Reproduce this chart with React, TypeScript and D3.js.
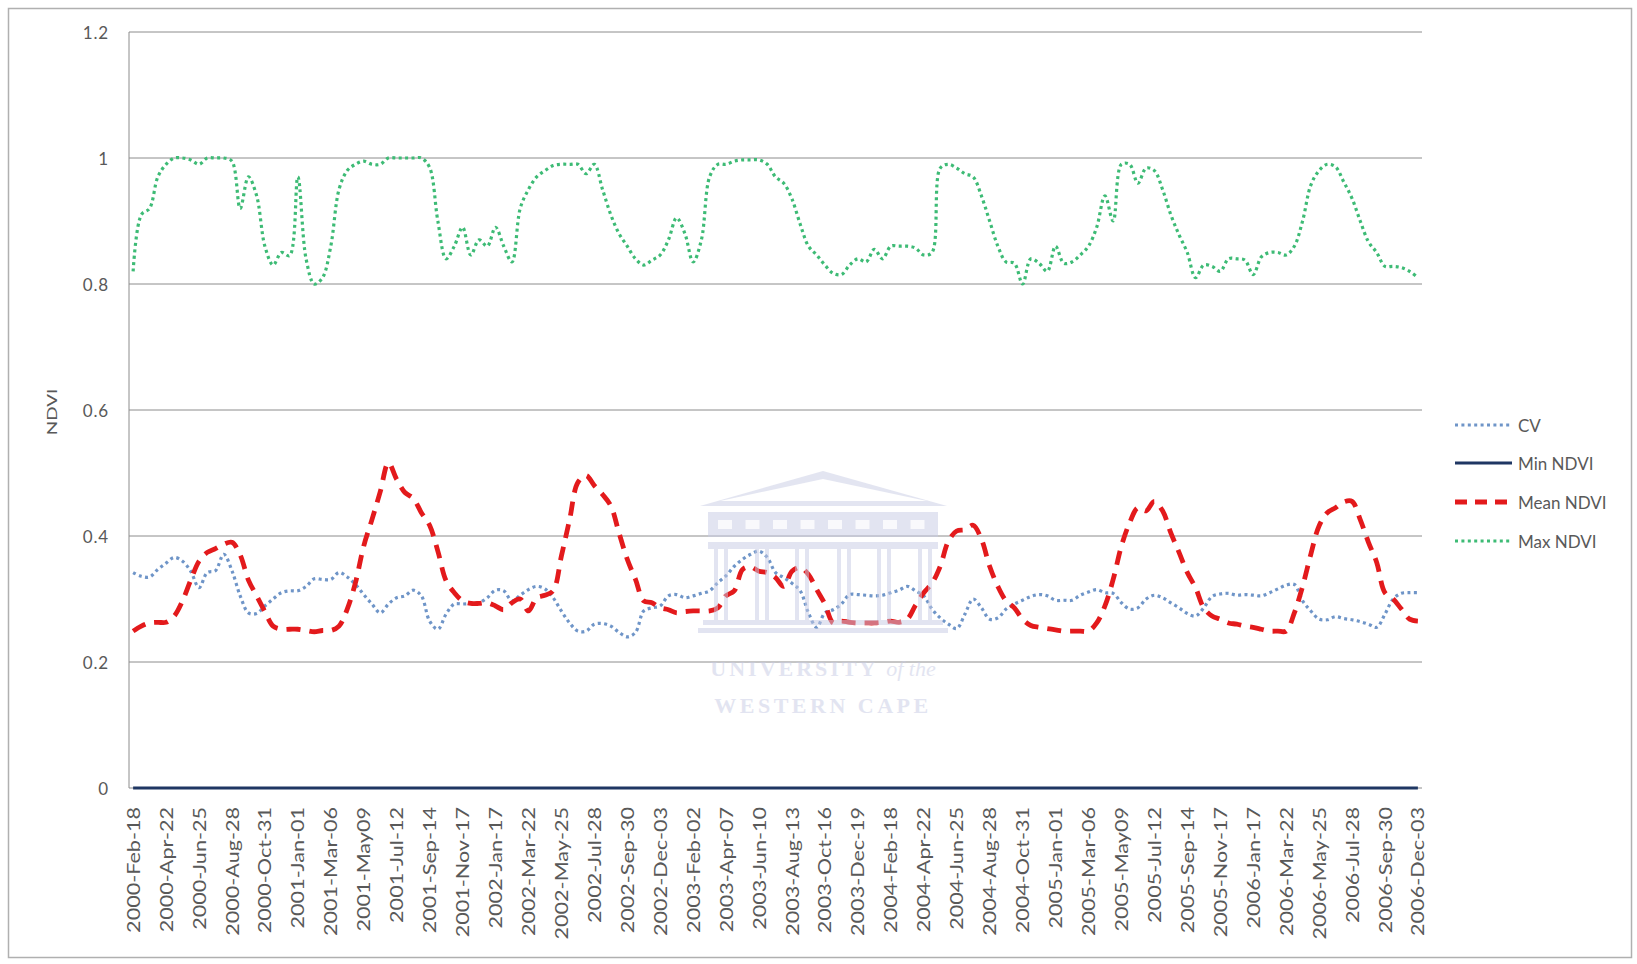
import React from 'react';
import * as d3 from 'd3';

const TICK_LABELS = [
  '2000-Feb-18', '2000-Apr-22', '2000-Jun-25', '2000-Aug-28', '2000-Oct-31',
  '2001-Jan-01', '2001-Mar-06', '2001-May09', '2001-Jul-12', '2001-Sep-14', '2001-Nov-17',
  '2002-Jan-17', '2002-Mar-22', '2002-May-25', '2002-Jul-28', '2002-Sep-30', '2002-Dec-03',
  '2003-Feb-02', '2003-Apr-07', '2003-Jun-10', '2003-Aug-13', '2003-Oct-16', '2003-Dec-19',
  '2004-Feb-18', '2004-Apr-22', '2004-Jun-25', '2004-Aug-28', '2004-Oct-31',
  '2005-Jan-01', '2005-Mar-06', '2005-May09', '2005-Jul-12', '2005-Sep-14', '2005-Nov-17',
  '2006-Jan-17', '2006-Mar-22', '2006-May-25', '2006-Jul-28', '2006-Sep-30', '2006-Dec-03',
];
const LABEL_STEP = 4;

const CV = [
  0.342, 0.336, 0.335, 0.347, 0.357, 0.366, 0.36, 0.344, 0.318, 0.342, 0.345, 0.371, 0.345, 0.305, 0.278, 0.277,
  0.289, 0.30, 0.31, 0.313, 0.313, 0.32, 0.332, 0.331, 0.331, 0.342, 0.335, 0.323, 0.307, 0.292, 0.278, 0.292,
  0.302, 0.305, 0.314, 0.305, 0.265, 0.252, 0.276, 0.292, 0.292, 0.293, 0.294, 0.302, 0.314, 0.313, 0.297, 0.306,
  0.315, 0.32, 0.316, 0.302, 0.281, 0.262, 0.249, 0.249, 0.26, 0.261, 0.257, 0.247, 0.24, 0.247, 0.281,
  0.286, 0.289, 0.305, 0.307, 0.302, 0.305, 0.309, 0.313, 0.326, 0.337, 0.352, 0.363, 0.371, 0.376, 0.366, 0.342,
  0.334, 0.325, 0.313, 0.278, 0.255, 0.278, 0.283, 0.292, 0.307, 0.307, 0.306, 0.305, 0.306, 0.31, 0.314, 0.32,
  0.313, 0.305, 0.284, 0.27, 0.26, 0.253, 0.276, 0.30, 0.286, 0.268, 0.27, 0.284, 0.292, 0.298, 0.304, 0.307,
  0.305, 0.298, 0.298, 0.298, 0.306, 0.311, 0.315, 0.31, 0.309, 0.294, 0.284, 0.286, 0.30, 0.306, 0.302, 0.294,
  0.286, 0.277, 0.273, 0.286, 0.304, 0.308, 0.309, 0.306, 0.307, 0.306, 0.305, 0.31, 0.316, 0.322, 0.323, 0.297,
  0.281, 0.268, 0.267, 0.272, 0.269, 0.267, 0.264, 0.26, 0.255, 0.276, 0.30, 0.309, 0.31, 0.31,
];

const MIN_NDVI = [
  0, 0, 0, 0, 0, 0, 0, 0, 0, 0, 0, 0, 0, 0, 0, 0, 0, 0, 0, 0,
  0, 0, 0, 0, 0, 0, 0, 0, 0, 0, 0, 0, 0, 0, 0, 0, 0, 0, 0, 0,
  0, 0, 0, 0, 0, 0, 0, 0, 0, 0, 0, 0, 0, 0, 0, 0, 0, 0, 0, 0,
  0, 0, 0, 0, 0, 0, 0, 0, 0, 0, 0, 0, 0, 0, 0, 0, 0, 0, 0, 0,
  0, 0, 0, 0, 0, 0, 0, 0, 0, 0, 0, 0, 0, 0, 0, 0, 0, 0, 0, 0,
  0, 0, 0, 0, 0, 0, 0, 0, 0, 0, 0, 0, 0, 0, 0, 0, 0, 0, 0, 0,
  0, 0, 0, 0, 0, 0, 0, 0, 0, 0, 0, 0, 0, 0, 0, 0, 0, 0, 0, 0,
  0, 0, 0, 0, 0, 0, 0, 0, 0, 0, 0, 0, 0, 0, 0, 0, 0,
];

const MEAN_NDVI = [
  0.249, 0.257, 0.262, 0.263, 0.263, 0.273, 0.297, 0.33, 0.36, 0.374, 0.38, 0.387, 0.39, 0.37, 0.33, 0.305,
  0.28, 0.257, 0.252, 0.252, 0.252, 0.25, 0.248, 0.25, 0.25, 0.257, 0.284, 0.326, 0.384, 0.426, 0.47, 0.516,
  0.49, 0.469, 0.46, 0.437, 0.417, 0.376, 0.329, 0.31, 0.297, 0.293, 0.293, 0.294, 0.289, 0.283, 0.294, 0.30,
  0.281, 0.302, 0.306, 0.313, 0.368, 0.426, 0.485, 0.496, 0.48, 0.466, 0.448, 0.405, 0.363, 0.331, 0.297,
  0.294, 0.286, 0.283, 0.278, 0.28, 0.281, 0.281, 0.281, 0.286, 0.305, 0.313, 0.347, 0.351, 0.344, 0.342, 0.334,
  0.32, 0.344, 0.35, 0.339, 0.315, 0.292, 0.262, 0.265, 0.263, 0.262, 0.262, 0.262, 0.263, 0.265, 0.263, 0.268,
  0.29, 0.31, 0.325, 0.352, 0.392, 0.408, 0.41, 0.417, 0.395, 0.352, 0.32, 0.297, 0.286, 0.268, 0.258, 0.255,
  0.253, 0.251, 0.249, 0.249, 0.249, 0.249, 0.262, 0.289, 0.331, 0.384, 0.421, 0.445, 0.44, 0.455, 0.44, 0.405,
  0.374, 0.342, 0.318, 0.286, 0.273, 0.268, 0.262, 0.26, 0.257, 0.255, 0.252, 0.249, 0.249, 0.249, 0.278, 0.32,
  0.371, 0.416, 0.437, 0.445, 0.454, 0.455, 0.426, 0.39, 0.358, 0.31, 0.30, 0.284, 0.268, 0.265,
];

const MAX_NDVI = [
  0.82, 0.91, 0.92, 0.97, 0.99, 1.0, 1.0, 0.997, 0.99, 1.0, 1.0, 1.0, 0.995, 0.92, 0.97, 0.94,
  0.86, 0.83, 0.85, 0.845, 0.97, 0.84, 0.80, 0.81, 0.86, 0.95, 0.98, 0.99, 0.995, 0.99, 0.99, 1.0,
  1.0, 1.0, 1.0, 1.0, 0.985, 0.90, 0.84, 0.86, 0.89, 0.846, 0.87, 0.86, 0.89, 0.86, 0.835, 0.92,
  0.95, 0.97, 0.98, 0.988, 0.99, 0.99, 0.99, 0.975, 0.99, 0.95, 0.91, 0.88, 0.86, 0.84, 0.83,
  0.838, 0.846, 0.87, 0.905, 0.88, 0.835, 0.87, 0.97, 0.99, 0.99, 0.995, 0.997, 0.997, 0.997, 0.99, 0.97,
  0.96, 0.935, 0.895, 0.86, 0.846, 0.83, 0.817, 0.815, 0.83, 0.84, 0.835, 0.855, 0.84, 0.86, 0.86, 0.86,
  0.857, 0.846, 0.85, 0.984, 0.99, 0.984, 0.975, 0.97, 0.94, 0.90, 0.86, 0.835, 0.833, 0.80, 0.84, 0.833,
  0.82, 0.86, 0.833, 0.835, 0.846, 0.86, 0.89, 0.94, 0.90, 0.99, 0.99, 0.96, 0.984, 0.98, 0.95, 0.91,
  0.878, 0.85, 0.81, 0.83, 0.828, 0.82, 0.84, 0.84, 0.838, 0.815, 0.843, 0.85, 0.85, 0.846, 0.86, 0.90,
  0.957, 0.98, 0.99, 0.986, 0.962, 0.936, 0.90, 0.867, 0.85, 0.828, 0.828, 0.826, 0.82, 0.81,
];

const Y_TICKS = [0, 0.2, 0.4, 0.6, 0.8, 1, 1.2];

const W = 1637;
const H = 964;
const PLOT = { left: 129, right: 1422, top: 32, bottom: 788 };
const FONT = 'Lato, "Open Sans", sans-serif';
const TEXT = '#595959';
const GRID = '#8c8c8c';

const SERIES = [
  { name: 'CV', data: CV, color: '#6f95c8', width: 3.2, dash: '3,3.4', cap: 'butt' },
  { name: 'Min NDVI', data: MIN_NDVI, color: '#1f3763', width: 3, dash: null, cap: 'butt' },
  { name: 'Mean NDVI', data: MEAN_NDVI, color: '#e31a1c', width: 4.8, dash: '14,9', cap: 'butt' },
  { name: 'Max NDVI', data: MAX_NDVI, color: '#3dbb75', width: 3.2, dash: '3,3.4', cap: 'butt' },
];

export default function App() {
  const n = CV.length;
  const idx = d3.range(n);
  const x = d3.scaleBand<number>().domain(idx).range([PLOT.left, PLOT.right]);
  const cx = (i: number) => (x(i) as number) + x.bandwidth() / 2;
  const y = d3.scaleLinear().domain([0, 1.2]).range([PLOT.bottom, PLOT.top]);
  const line = d3
    .line<number>()
    .x((_, i) => cx(i))
    .y((d) => y(d))
    .curve(d3.curveCatmullRom.alpha(0.5));

  const legendY = [425, 463, 502, 541];

  // watermark columns
  const colXs = [721, 762, 802, 844, 884, 925];

  return (
    <svg
      width={W}
      height={H}
      style={{ position: 'absolute', left: 0, top: 0, background: '#fff' }}
      fontFamily={FONT}
    >
      <rect x={0} y={0} width={W} height={H} fill="#fff" />
      <rect x={8.5} y={8.5} width={1623} height={949} fill="none" stroke="#b0b0b0" strokeWidth={1.5} />

      {/* gridlines */}
      {Y_TICKS.map((t) => (
        <g key={t}>
          {t > 0 && (
            <line x1={PLOT.left} x2={PLOT.right} y1={y(t)} y2={y(t)} stroke={GRID} strokeWidth={1} />
          )}
          <text
            x={109}
            y={y(t)}
            textAnchor="end"
            dominantBaseline="central"
            fontSize={17}
            fill={TEXT}
            letterSpacing={0.8}
          >
            {String(t)}
          </text>
        </g>
      ))}
      <line x1={PLOT.left} x2={PLOT.left} y1={PLOT.top} y2={PLOT.bottom} stroke={GRID} strokeWidth={1} />
      <line x1={PLOT.left} x2={PLOT.right} y1={PLOT.bottom} y2={PLOT.bottom} stroke={GRID} strokeWidth={1} />

      {/* y axis title */}
      <text
        transform={`translate(52,412) rotate(-90) scale(1.45,1)`}
        textAnchor="middle"
        dominantBaseline="central"
        fontSize={13}
        fill={TEXT}
      >
        NDVI
      </text>

      {/* x labels */}
      {TICK_LABELS.map((lab, k) => {
        const i = k * LABEL_STEP;
        return (
          <text
            key={lab}
            transform={`translate(${cx(i)},807) rotate(-90) scale(1.27,1)`}
            textAnchor="end"
            dominantBaseline="central"
            fontSize={17}
            fill={TEXT}
          >
            {lab}
          </text>
        );
      })}

      {/* series */}
      {SERIES.map((s) => (
        <path
          key={s.name}
          d={line(s.data) || ''}
          fill="none"
          stroke={s.color}
          strokeWidth={s.width}
          strokeDasharray={s.dash || undefined}
          strokeLinecap={s.cap as any}
          strokeLinejoin="round"
        />
      ))}

      {/* watermark */}
      <g opacity={0.5} fill="#c7cbe4" stroke="none">
        <path d="M700,506 L823,471 L947,506 Z M720,501 L823,479 L927,501 Z" fillRule="evenodd" />
        <rect x={708} y={512} width={230} height={25} />
        {d3.range(8).map((k) => (
          <rect key={k} x={718 + k * 27.5} y={520} width={14} height={9} fill="#f4f4fa" />
        ))}
        <rect x={708} y={542} width={230} height={7} />
        {colXs.map((c) => (
          <g key={c}>
            <rect x={c - 7} y={549} width={4} height={72} />
            <rect x={c + 3} y={549} width={4} height={72} />
          </g>
        ))}
        <rect x={703} y={620} width={240} height={5} />
        <rect x={698} y={628} width={250} height={5} />
        <text x={823} y={676} textAnchor="middle" fontFamily="'Liberation Serif', serif" fontSize={22} fontWeight="bold" letterSpacing={3}>
          UNIVERSITY <tspan fontStyle="italic" fontWeight="normal" letterSpacing={0}>of the</tspan>
        </text>
        <text x={823} y={713} textAnchor="middle" fontFamily="'Liberation Serif', serif" fontSize={22} fontWeight="bold" letterSpacing={3.5}>
          WESTERN CAPE
        </text>
      </g>

      {/* legend */}
      {SERIES.map((s, k) => (
        <g key={s.name}>
          <line
            x1={1455}
            x2={1512}
            y1={legendY[k]}
            y2={legendY[k]}
            stroke={s.color}
            strokeWidth={s.width}
            strokeDasharray={s.name === 'Mean NDVI' ? '12,8' : s.dash || undefined}
          />
          <text x={1518} y={legendY[k]} dominantBaseline="central" fontSize={17} fill={TEXT}>
            {s.name}
          </text>
        </g>
      ))}
    </svg>
  );
}
